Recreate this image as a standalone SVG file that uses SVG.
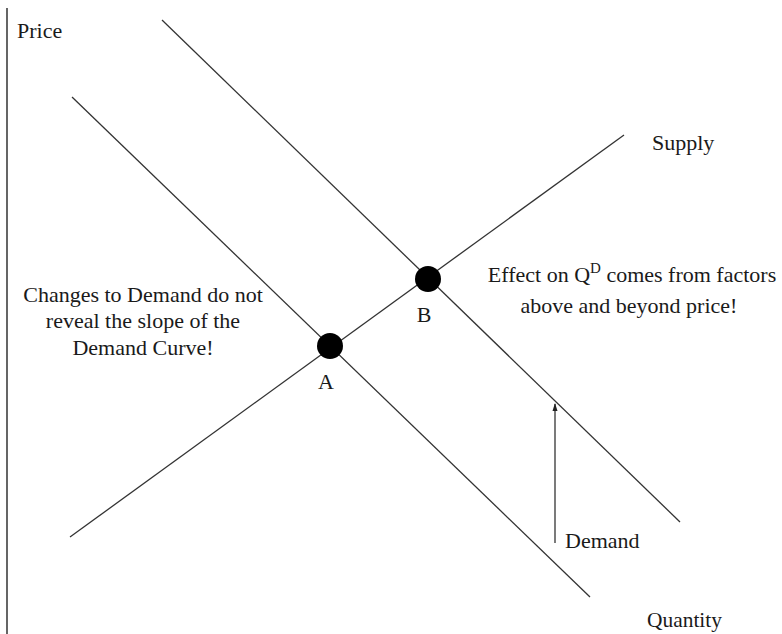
<svg xmlns="http://www.w3.org/2000/svg" width="782" height="634" viewBox="0 0 782 634">
<defs>
<style>
.ln{stroke:#333;stroke-width:1.3;fill:none}
.ax{stroke:#555;stroke-width:1.8;fill:none}
.t{font-family:"Liberation Serif","Times New Roman",serif;font-size:22px;fill:#1a1a1a}
.pt{fill:#000}
</style>
<marker id="ah" markerWidth="8" markerHeight="8" refX="7" refY="4" orient="auto" markerUnits="userSpaceOnUse">
<path d="M0,1.5 L8,4 L0,6.5 Z" fill="#222"/>
</marker>
</defs>
<rect width="782" height="634" fill="#fff"/>
<g id="axes">
<line class="ax" x1="7" y1="8" x2="7" y2="634"/>
<text class="t" x="17" y="38">Price</text>
<text class="t" x="647" y="627" textLength="75" lengthAdjust="spacingAndGlyphs">Quantity</text>
</g>
<g id="connectors">
<line id="demand1" class="ln" x1="72" y1="97" x2="590" y2="597"/>
<line id="demand2" class="ln" x1="162" y1="20" x2="680" y2="522"/>
<line id="supply" class="ln" x1="70" y1="537" x2="624" y2="135"/>
<line id="shift-arrow" stroke="#222" stroke-width="1.2" x1="555" y1="543" x2="555" y2="404" marker-end="url(#ah)"/>
</g>
<g id="point-A">
<circle class="pt" cx="330" cy="346" r="13"/>
<text class="t" x="326" y="389" text-anchor="middle">A</text>
</g>
<g id="point-B">
<circle class="pt" cx="428" cy="279" r="13"/>
<text class="t" x="424" y="322" text-anchor="middle">B</text>
</g>
<g id="label-supply">
<text class="t" x="652" y="150">Supply</text>
</g>
<g id="label-demand">
<text class="t" x="565" y="548">Demand</text>
</g>
<g id="note-right">
<text class="t" x="632" y="282" text-anchor="middle">Effect on Q<tspan font-size="15" dy="-9">D</tspan><tspan dy="9"> comes from factors</tspan></text>
<text class="t" x="629" y="313" text-anchor="middle">above and beyond price!</text>
</g>
<g id="note-left">
<text class="t" x="143" y="302" text-anchor="middle">Changes to Demand do not</text>
<text class="t" x="143" y="328" text-anchor="middle">reveal the slope of the</text>
<text class="t" x="143" y="355" text-anchor="middle">Demand Curve!</text>
</g>
</svg>
